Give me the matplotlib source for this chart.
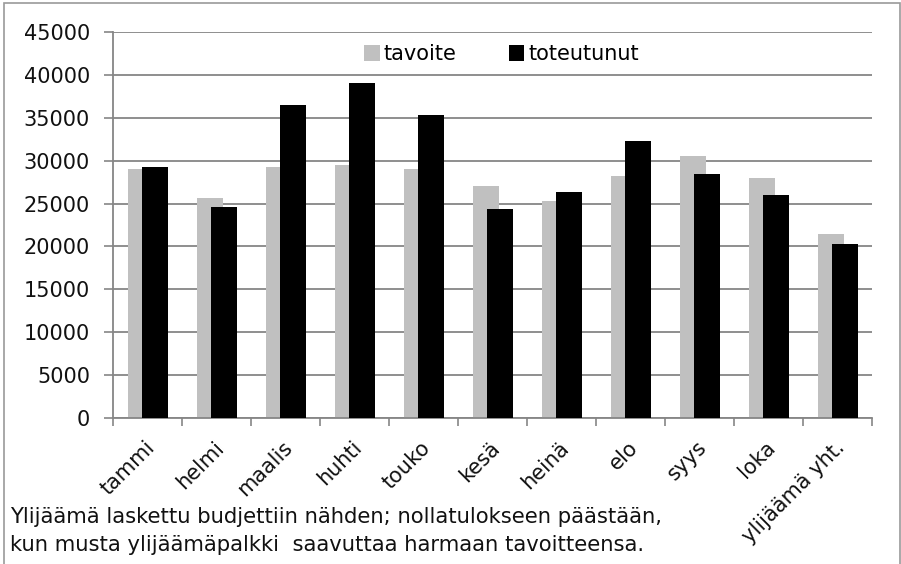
import numpy as np
import matplotlib.pyplot as plt
from matplotlib.patches import Rectangle
from matplotlib.transforms import ScaledTranslation

categories = ['tammi', 'helmi', 'maalis', 'huhti', 'touko', 'kesä', 'heinä',
              'elo', 'syys', 'loka', 'ylijäämä yht.']
tavoite = [29000, 25700, 29250, 29450, 29000, 27100, 25250, 28250, 30600, 28000, 21500]
toteutunut = [29250, 24550, 36450, 39000, 35300, 24350, 26400, 32250, 28500, 25950, 20300]
yticks = [0, 5000, 10000, 15000, 20000, 25000, 30000, 35000, 40000, 45000]

plt.rcParams['font.family'] = ['DejaVu Sans']
grid_col = '#868686'

fig = plt.figure(figsize=(9.01, 5.64), dpi=100)
ax = fig.add_axes([113/901, 1 - 418/564, (872 - 113)/901, (418 - 32)/564])

x = np.arange(len(categories))
w = 0.38
ax.bar(x - 0.09, tavoite, w, color='#c0c0c0', label='tavoite', zorder=2)
ax.bar(x + 0.105, toteutunut, w, color='black', label='toteutunut', zorder=3)

ax.set_xlim(-0.5, len(categories) - 0.5)
ax.set_ylim(0, 45000)
ax.set_yticks(yticks)
ax.set_yticklabels([str(v) for v in yticks], fontsize=15, color='#111111')
ax.yaxis.grid(True, color=grid_col, linewidth=1.3, zorder=0)
ax.set_axisbelow(True)
ax.tick_params(axis='y', length=6.5, width=1.2, color=grid_col, pad=10)

for s in ['top', 'right']:
    ax.spines[s].set_visible(False)
for s in ['left', 'bottom']:
    ax.spines[s].set_color(grid_col)
    ax.spines[s].set_linewidth(1.3)

# category labels at centers, tick marks at boundaries
ax.set_xticks(x)
ax.set_xticklabels(categories, fontsize=15, rotation=45, ha='right', va='top',
                   rotation_mode='anchor', color='#111111')
ax.set_xticks(np.arange(len(categories) + 1) - 0.5, minor=True)
ax.tick_params(axis='x', which='major', length=0, pad=14)
ax.tick_params(axis='x', which='minor', length=6, width=1.2, color=grid_col)
for lab in ax.get_xticklabels():
    lab.set_transform(lab.get_transform() + ScaledTranslation(-3/100, 0, fig.dpi_scale_trans))

ax.legend(loc='center left', bbox_to_anchor=(364/901, 1 - 54/564),
          bbox_transform=fig.transFigure, ncol=2, frameon=False, fontsize=15,
          handlelength=0.75, handleheight=0.8, handletextpad=0.2,
          columnspacing=2.5, borderpad=0, borderaxespad=0)

fig.text(10/901, 1 - 523/564, 'Ylijäämä laskettu budjettiin nähden; nollatulokseen päästään,',
         fontsize=15.2, ha='left', va='baseline', color='#111111')
fig.text(10/901, 1 - 551/564, 'kun musta ylijäämäpalkki  saavuttaa harmaan tavoitteensa.',
         fontsize=15.2, ha='left', va='baseline', color='#111111')

fig.patches.append(Rectangle((4/901, -0.02), 895.5/901, 1.02 - 3/564,
                             transform=fig.transFigure, fill=False,
                             edgecolor='#9a9a9a', linewidth=1.2))

fig.savefig('out.png', dpi=100)
